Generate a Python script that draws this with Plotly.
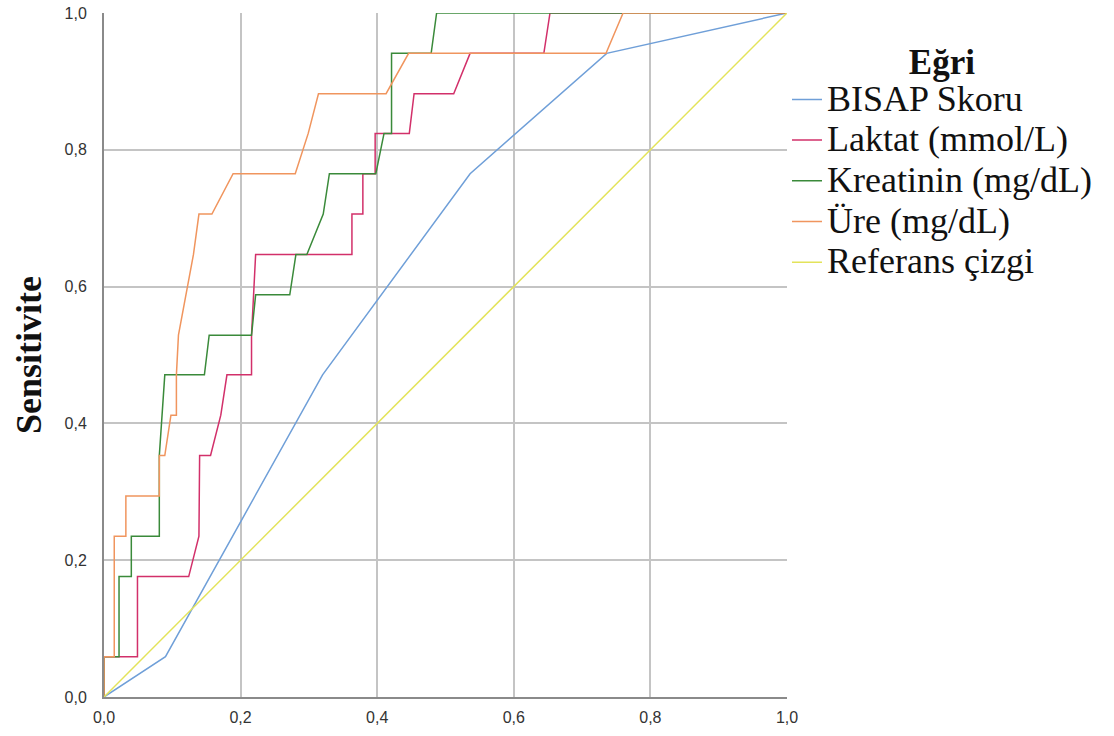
import plotly.graph_objects as go

# ROC curve data (1 - specificity, sensitivity)
bisap_fpr = [0, 0.09, 0.32, 0.536, 0.736, 1]
bisap_tpr = [0, 0.059, 0.471, 0.765, 0.941, 1]

laktat_fpr = [0, 0, 0.049, 0.049, 0.124, 0.139, 0.140, 0.156, 0.171, 0.180, 0.216, 0.216,
              0.222, 0.363, 0.363, 0.379, 0.379, 0.397, 0.397, 0.447, 0.454, 0.512, 0.536,
              0.644, 0.653, 1]
laktat_tpr = [0, 0.059, 0.059, 0.176, 0.176, 0.235, 0.353, 0.353, 0.412, 0.471, 0.471, 0.529,
              0.647, 0.647, 0.706, 0.706, 0.765, 0.765, 0.824, 0.824, 0.882, 0.882, 0.941,
              0.941, 1, 1]

kreatinin_fpr = [0, 0, 0.022, 0.022, 0.040, 0.040, 0.081, 0.081, 0.089, 0.147, 0.154, 0.216,
                 0.222, 0.272, 0.281, 0.297, 0.321, 0.330, 0.398, 0.410, 0.421, 0.421, 0.479,
                 0.487, 1]
kreatinin_tpr = [0, 0.059, 0.059, 0.176, 0.176, 0.235, 0.235, 0.353, 0.471, 0.471, 0.529, 0.529,
                 0.588, 0.588, 0.647, 0.647, 0.706, 0.765, 0.765, 0.824, 0.824, 0.941, 0.941,
                 1, 1]

ure_fpr = [0, 0, 0.015, 0.015, 0.032, 0.032, 0.081, 0.081, 0.089, 0.098, 0.106, 0.106, 0.109,
           0.120, 0.131, 0.139, 0.158, 0.189, 0.280, 0.299, 0.314, 0.413, 0.446, 0.735, 0.760, 1]
ure_tpr = [0, 0.059, 0.059, 0.235, 0.235, 0.294, 0.294, 0.353, 0.353, 0.412, 0.412, 0.471, 0.529,
           0.588, 0.647, 0.706, 0.706, 0.765, 0.765, 0.824, 0.882, 0.882, 0.941, 0.941, 1, 1]

ref_x = [0, 1]
ref_y = [0, 1]

names = ["BISAP Skoru", "Laktat (mmol/L)", "Kreatinin (mg/dL)", "Üre (mg/dL)", "Referans çizgi"]
colors = ["#6f9fd8", "#d2306a", "#3a8a3a", "#f0955e", "#e3e35a"]

tick_vals = [0, 0.2, 0.4, 0.6, 0.8, 1.0]
tick_text = ["0,0", "0,2", "0,4", "0,6", "0,8", "1,0"]

series = [(bisap_fpr, bisap_tpr), (laktat_fpr, laktat_tpr), (kreatinin_fpr, kreatinin_tpr),
          (ure_fpr, ure_tpr), (ref_x, ref_y)]

serif = "Liberation Serif, Times New Roman, serif"

fig = go.Figure()
for i, ((xs, ys), name, col) in enumerate(zip(series, names, colors)):
    fig.add_trace(go.Scatter(x=xs, y=ys, mode="lines",
                             name=f'<span style="font-size:36px">{name}</span>',
                             legendgroup=f"g{i}",
                             line=dict(color=col, width=1.5)))

fig.update_layout(
    width=1114, height=736,
    margin=dict(l=104, r=327, t=13, b=39),
    paper_bgcolor="white", plot_bgcolor="white",
    font=dict(family="Liberation Sans, Arial, sans-serif", color="#333333"),
    legend=dict(
        title=dict(text='<span style="font-size:35px"><b>Eğri</b></span>', side="top center",
                   font=dict(family=serif, size=38, color="#111111")),
        font=dict(family=serif, size=29, color="#111111"),
        x=1.0, xanchor="left", y=0.983, yanchor="top",
        traceorder="grouped", tracegroupgap=0,
        itemwidth=30, bgcolor="rgba(0,0,0,0)",
    ),
    showlegend=True,
)

fig.update_xaxes(range=[0, 1], tickvals=tick_vals, ticktext=tick_text, automargin=False,
                 showgrid=True, gridcolor="#c4c4c4", gridwidth=1.5,
                 showline=True, linecolor="#8a8a8a", linewidth=2,
                 zeroline=False, ticks="outside", ticklen=5, tickcolor="rgba(0,0,0,0)",
                 tickfont=dict(size=16, color="#333333"))
fig.update_yaxes(range=[0, 1], tickvals=tick_vals, ticktext=tick_text, automargin=False,
                 showgrid=True, gridcolor="#c4c4c4", gridwidth=1.5,
                 showline=True, linecolor="#8a8a8a", linewidth=2,
                 zeroline=False, ticks="outside", ticklen=12, tickcolor="rgba(0,0,0,0)",
                 tickfont=dict(size=16, color="#333333"),
                 title=dict(text="<b>Sensitivite</b>", standoff=12,
                            font=dict(family=serif, size=36, color="#111111")))

fig.write_html("out.html")
